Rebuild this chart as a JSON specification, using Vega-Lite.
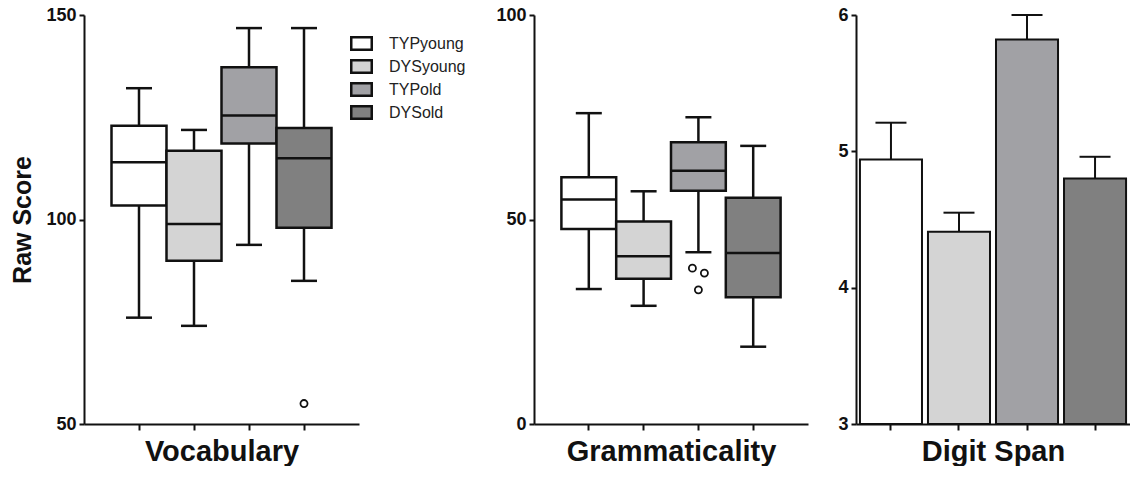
{
  "$schema": "https://vega.github.io/schema/vega-lite/v6.json",
  "padding": {"left": 10, "top": 6, "right": 0, "bottom": 0},
  "background": "white",
  "config": {
    "view": {"stroke": null},
    "font": "Liberation Sans",
    "tick": {"opacity": 1},
    "axis": {"domainColor": "#111", "domainWidth": 2, "tickColor": "#111", "tickWidth": 2, "tickSize": 6, "labelFont": "Liberation Sans", "labelFontWeight": "bold", "labelFontSize": 18, "labelColor": "#111", "titleFont": "Liberation Sans", "titleFontWeight": "bold", "titleColor": "#111", "grid": false},
    "axisX": {"titleFontSize": 29, "titlePadding": 6, "labels": false},
    "axisY": {"titleFontSize": 25, "labelPadding": 3, "titlePadding": 10, "tickSize": 5, "format": "d"}
  },
  "datasets": {
    "vocab": [
      {"group": "TYPyoung", "lower": 76, "q1": 103.4, "median": 114, "q3": 122.9, "upper": 132.1},
      {"group": "DYSyoung", "lower": 74, "q1": 89.9, "median": 98.9, "q3": 116.8, "upper": 121.9},
      {"group": "TYPold", "lower": 93.8, "q1": 118.6, "median": 125.4, "q3": 137.2, "upper": 146.8},
      {"group": "DYSold", "lower": 85, "q1": 98, "median": 115, "q3": 122.4, "upper": 146.8}
    ],
    "vocabOut": [
      {"group": "DYSold", "value": 55, "side": "center"}
    ],
    "gram": [
      {"group": "TYPyoung", "lower": 33, "q1": 47.7, "median": 54.9, "q3": 60.3, "upper": 76},
      {"group": "DYSyoung", "lower": 28.9, "q1": 35.5, "median": 41, "q3": 49.5, "upper": 56.9},
      {"group": "TYPold", "lower": 42, "q1": 57, "median": 61.9, "q3": 68.9, "upper": 75},
      {"group": "DYSold", "lower": 18.9, "q1": 31, "median": 41.8, "q3": 55.3, "upper": 68}
    ],
    "gramOut": [
      {"group": "TYPold", "value": 38.1, "side": "left"},
      {"group": "TYPold", "value": 36.9, "side": "right"},
      {"group": "TYPold", "value": 32.8, "side": "center"}
    ],
    "digit": [
      {"group": "TYPyoung", "mean": 4.94, "upper": 5.21},
      {"group": "DYSyoung", "mean": 4.41, "upper": 4.55},
      {"group": "TYPold", "mean": 5.82, "upper": 6.0},
      {"group": "DYSold", "mean": 4.8, "upper": 4.96}
    ]
  },
  "spacing": 29,
  "resolve": {"scale": {"x": "independent", "y": "independent", "fill": "independent"}, "legend": {"fill": "independent"}},
  "hconcat": [
    {
      "width": 275,
      "height": 409,
      "data": {"name": "vocab"},
      "encoding": {
        "x": {"field": "group", "type": "nominal", "sort": ["TYPyoung", "DYSyoung", "TYPold", "DYSold"], "scale": {"paddingInner": 0, "paddingOuter": 0.5}, "axis": {"title": "Vocabulary", "labels": false}}
      },
      "layer": [
        {"mark": {"type": "rule", "color": "#111", "strokeWidth": 2.5},
         "encoding": {"y": {"field": "lower", "type": "quantitative", "scale": {"domain": [50, 150], "nice": false}, "axis": {"values": [50, 100, 150], "title": "Raw Score"}}, "y2": {"field": "upper"}}},
        {"mark": {"type": "bar", "stroke": "#111", "strokeWidth": 2.5, "opacity": 1},
         "encoding": {"y": {"field": "q1", "type": "quantitative"}, "y2": {"field": "q3"},
           "fill": {"field": "group", "type": "nominal", "scale": {"domain": ["TYPyoung", "DYSyoung", "TYPold", "DYSold"], "range": ["#ffffff", "#d4d4d4", "#a1a1a5", "#808080"]},
             "legend": {"orient": "none", "legendX": 266, "legendY": 17, "title": null, "symbolType": "M-1,-0.6L1,-0.6L1,0.6L-1,0.6Z", "symbolSize": 420, "symbolStrokeColor": "#111", "symbolStrokeWidth": 2.5, "labelFontSize": 16, "labelFont": "Liberation Sans", "labelColor": "#222", "labelOffset": 16, "rowPadding": -1}}}},
        {"mark": {"type": "tick", "color": "#111", "size": 55, "thickness": 2.5, "opacity": 1},
         "encoding": {"y": {"field": "median", "type": "quantitative"}}},
        {"mark": {"type": "tick", "color": "#111", "size": 26, "thickness": 2.5, "opacity": 1},
         "encoding": {"y": {"field": "lower", "type": "quantitative"}}},
        {"mark": {"type": "tick", "color": "#111", "size": 26, "thickness": 2.5, "opacity": 1},
         "encoding": {"y": {"field": "upper", "type": "quantitative"}}},
        {"data": {"name": "vocabOut"},
         "mark": {"type": "point", "shape": "circle", "size": 50, "filled": false, "stroke": "#111", "strokeWidth": 1.8, "fill": "white", "opacity": 1},
         "encoding": {"y": {"field": "value", "type": "quantitative"}}}
      ]
    },
    {
      "width": 274,
      "height": 409,
      "data": {"name": "gram"},
      "encoding": {
        "x": {"field": "group", "type": "nominal", "sort": ["TYPyoung", "DYSyoung", "TYPold", "DYSold"], "scale": {"paddingInner": 0, "paddingOuter": 0.5}, "axis": {"title": "Grammaticality", "labels": false}}
      },
      "layer": [
        {"mark": {"type": "rule", "color": "#111", "strokeWidth": 2.5},
         "encoding": {"y": {"field": "lower", "type": "quantitative", "scale": {"domain": [0, 100], "nice": false}, "axis": {"values": [0, 50, 100], "title": null}}, "y2": {"field": "upper"}}},
        {"mark": {"type": "bar", "stroke": "#111", "strokeWidth": 2.5, "opacity": 1},
         "encoding": {"y": {"field": "q1", "type": "quantitative"}, "y2": {"field": "q3"},
           "fill": {"field": "group", "type": "nominal", "scale": {"domain": ["TYPyoung", "DYSyoung", "TYPold", "DYSold"], "range": ["#ffffff", "#d4d4d4", "#a1a1a5", "#808080"]}, "legend": null}}},
        {"mark": {"type": "tick", "color": "#111", "size": 55, "thickness": 2.5, "opacity": 1},
         "encoding": {"y": {"field": "median", "type": "quantitative"}}},
        {"mark": {"type": "tick", "color": "#111", "size": 26, "thickness": 2.5, "opacity": 1},
         "encoding": {"y": {"field": "lower", "type": "quantitative"}}},
        {"mark": {"type": "tick", "color": "#111", "size": 26, "thickness": 2.5, "opacity": 1},
         "encoding": {"y": {"field": "upper", "type": "quantitative"}}},
        {"data": {"name": "gramOut"},
         "transform": [{"filter": "datum.side === 'center'"}],
         "mark": {"type": "point", "shape": "circle", "size": 50, "filled": false, "stroke": "#111", "strokeWidth": 1.8, "fill": "white", "opacity": 1},
         "encoding": {"y": {"field": "value", "type": "quantitative"}}},
        {"data": {"name": "gramOut"},
         "transform": [{"filter": "datum.side === 'left'"}],
         "mark": {"type": "point", "shape": "circle", "size": 50, "filled": false, "stroke": "#111", "strokeWidth": 1.8, "fill": "white", "opacity": 1, "xOffset": -6},
         "encoding": {"y": {"field": "value", "type": "quantitative"}}},
        {"data": {"name": "gramOut"},
         "transform": [{"filter": "datum.side === 'right'"}],
         "mark": {"type": "point", "shape": "circle", "size": 50, "filled": false, "stroke": "#111", "strokeWidth": 1.8, "fill": "white", "opacity": 1, "xOffset": 6},
         "encoding": {"y": {"field": "value", "type": "quantitative"}}}
      ]
    },
    {
      "width": 274,
      "height": 409,
      "data": {"name": "digit"},
      "encoding": {
        "x": {"field": "group", "type": "nominal", "sort": ["TYPyoung", "DYSyoung", "TYPold", "DYSold"], "scale": {"paddingInner": 0.088, "paddingOuter": 0.058}, "axis": {"title": "Digit Span", "labels": false}}
      },
      "layer": [
        {"mark": {"type": "bar", "stroke": "#111", "strokeWidth": 2, "opacity": 1},
         "encoding": {"y": {"field": "mean", "type": "quantitative", "scale": {"domain": [3, 6], "nice": false, "zero": false}, "axis": {"values": [3, 4, 5, 6], "title": null}}, "y2": {"datum": 3},
           "fill": {"field": "group", "type": "nominal", "scale": {"domain": ["TYPyoung", "DYSyoung", "TYPold", "DYSold"], "range": ["#ffffff", "#d4d4d4", "#a1a1a5", "#808080"]}, "legend": null}}},
        {"mark": {"type": "rule", "color": "#111", "strokeWidth": 2},
         "encoding": {"y": {"field": "mean", "type": "quantitative"}, "y2": {"field": "upper"}}},
        {"mark": {"type": "tick", "color": "#111", "size": 31, "thickness": 2, "opacity": 1},
         "encoding": {"y": {"field": "upper", "type": "quantitative"}}}
      ]
    }
  ]
}
